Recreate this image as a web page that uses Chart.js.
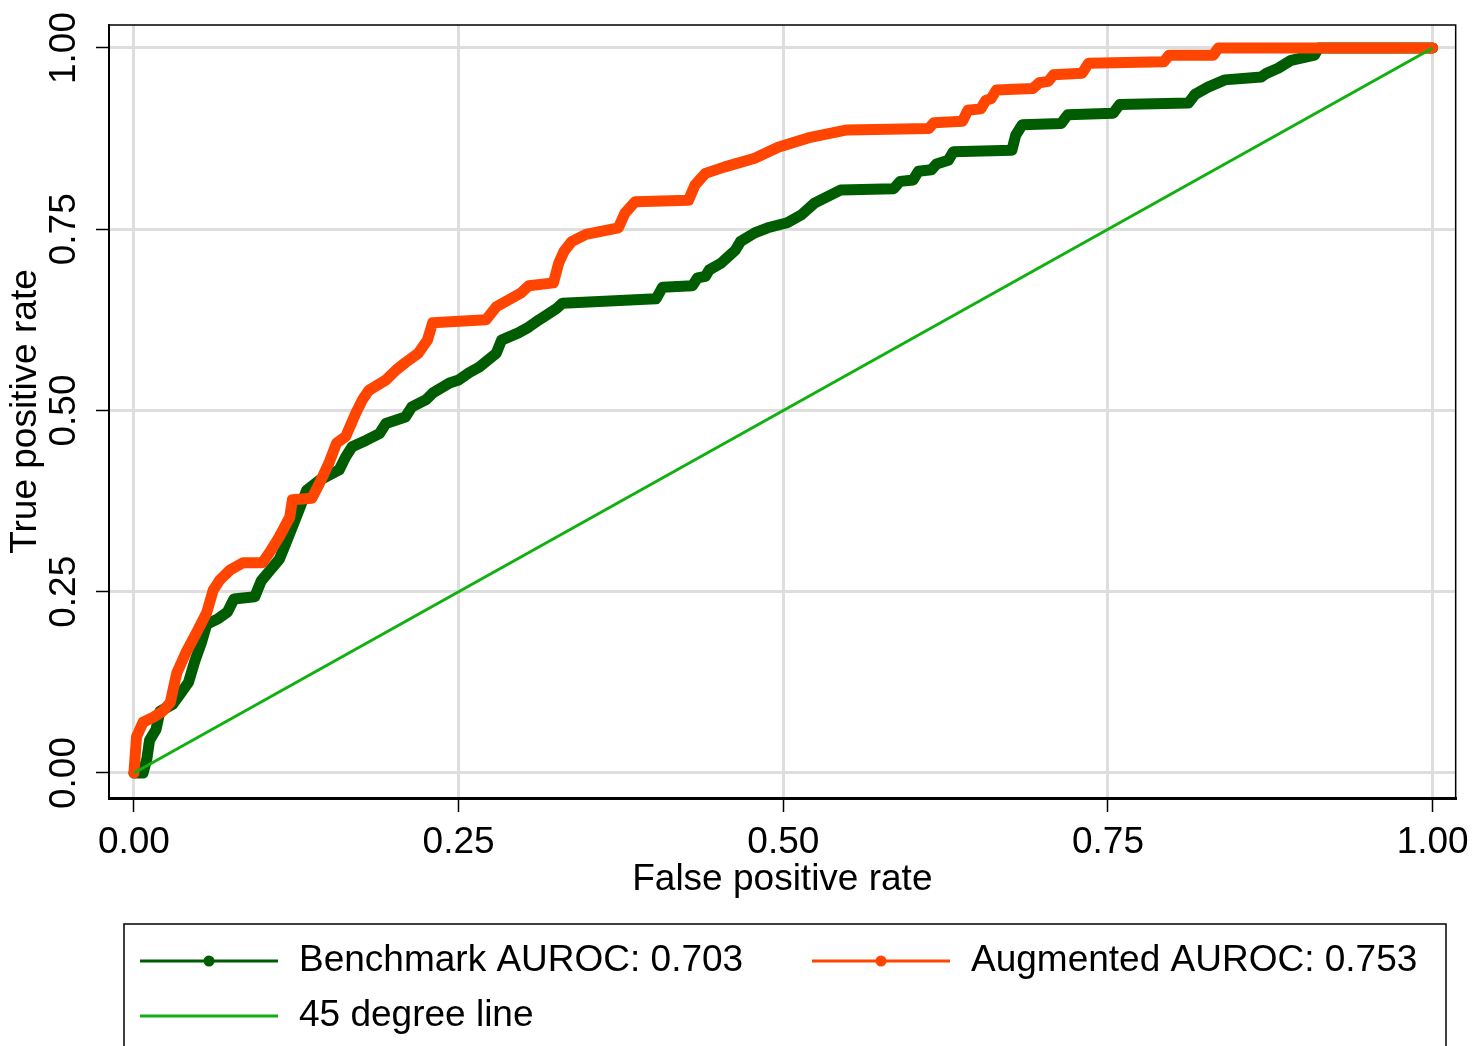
<!DOCTYPE html>
<html lang="en">
<head>
  <meta charset="UTF-8">
  <title>ROC curves</title>
  <style>
    body {
      margin: 0;
      background: #ffffff;
      overflow: hidden;
    }
    #wrap {
      width: 1478px;
      height: 1046px;
    }
  </style>
</head>
<body>
  <div id="wrap"><canvas id="roc"></canvas></div>

  <script src="https://cdn.jsdelivr.net/npm/chart.js"></script>
  <script>
    // tick positions and labels (both axes)
    const tickVals = [0, 0.25, 0.5, 0.75, 1];
    const tickLabels = ['0.00', '0.25', '0.50', '0.75', '1.00'];

    const seriesLabels = ['Benchmark AUROC: 0.703', 'Augmented AUROC: 0.753', '45 degree line'];

    // benchmark model ROC (false positive rate / true positive rate)
    const benchFpr = [0, 0.007, 0.010, 0.012, 0.017, 0.020, 0.030, 0.036, 0.042, 0.047,
      0.052, 0.056, 0.065, 0.072, 0.077, 0.093, 0.098, 0.105, 0.112, 0.117,
      0.125, 0.133, 0.143, 0.158, 0.163, 0.168, 0.179, 0.189, 0.194, 0.209,
      0.214, 0.225, 0.230, 0.243, 0.250, 0.258, 0.266, 0.279, 0.283, 0.296,
      0.304, 0.312, 0.325, 0.330, 0.402, 0.407, 0.430, 0.434, 0.440, 0.443,
      0.452, 0.463, 0.467, 0.478, 0.488, 0.503, 0.514, 0.524, 0.544, 0.585,
      0.590, 0.600, 0.604, 0.614, 0.618, 0.627, 0.631, 0.676, 0.679, 0.684,
      0.714, 0.719, 0.754, 0.759, 0.812, 0.817, 0.827, 0.840, 0.868, 0.872,
      0.881, 0.891, 0.909, 0.912, 1.000];
    const benchTpr = [0, 0, 0.020, 0.045, 0.060, 0.085, 0.095, 0.110, 0.125, 0.155,
      0.180, 0.205, 0.213, 0.222, 0.240, 0.243, 0.265, 0.280, 0.295, 0.317,
      0.353, 0.390, 0.404, 0.418, 0.436, 0.450, 0.459, 0.468, 0.482, 0.491,
      0.505, 0.515, 0.524, 0.538, 0.542, 0.552, 0.560, 0.579, 0.597, 0.607,
      0.615, 0.625, 0.640, 0.648, 0.654, 0.670, 0.672, 0.683, 0.685, 0.694,
      0.703, 0.721, 0.733, 0.745, 0.752, 0.759, 0.770, 0.786, 0.804, 0.806,
      0.816, 0.818, 0.830, 0.832, 0.840, 0.845, 0.857, 0.859, 0.880, 0.894,
      0.896, 0.908, 0.910, 0.922, 0.924, 0.936, 0.946, 0.956, 0.960, 0.965,
      0.972, 0.983, 0.990, 1.000, 1.000];

    // augmented model ROC
    const augFpr = [0, 0.002, 0.007, 0.015, 0.022, 0.028, 0.030, 0.033, 0.040, 0.048,
      0.056, 0.061, 0.066, 0.074, 0.084, 0.099, 0.104, 0.112, 0.120, 0.122,
      0.137, 0.143, 0.150, 0.156, 0.163, 0.171, 0.176, 0.181, 0.194, 0.202,
      0.209, 0.219, 0.226, 0.230, 0.271, 0.279, 0.298, 0.304, 0.323, 0.327,
      0.331, 0.337, 0.348, 0.373, 0.378, 0.386, 0.427, 0.432, 0.440, 0.455,
      0.478, 0.496, 0.519, 0.549, 0.612, 0.616, 0.638, 0.642, 0.652, 0.656,
      0.660, 0.664, 0.692, 0.697, 0.704, 0.708, 0.730, 0.735, 0.793, 0.797,
      0.831, 0.835, 1.000];
    const augTpr = [0, 0.050, 0.070, 0.077, 0.085, 0.097, 0.114, 0.138, 0.166, 0.193,
      0.221, 0.252, 0.266, 0.280, 0.290, 0.290, 0.303, 0.326, 0.353, 0.377,
      0.379, 0.400, 0.427, 0.455, 0.464, 0.497, 0.515, 0.528, 0.542, 0.556,
      0.566, 0.579, 0.597, 0.621, 0.625, 0.643, 0.662, 0.672, 0.676, 0.703,
      0.719, 0.733, 0.743, 0.752, 0.772, 0.788, 0.790, 0.811, 0.827, 0.836,
      0.848, 0.863, 0.876, 0.887, 0.889, 0.897, 0.899, 0.914, 0.916, 0.928,
      0.930, 0.942, 0.944, 0.952, 0.954, 0.963, 0.965, 0.979, 0.981, 0.990,
      0.990, 1.000, 1.000];

    // reference diagonal
    const diagFpr = [0, 1];
    const diagTpr = [0, 1];

    const toPoints = (xs, ys) => xs.map((x, i) => ({ x: x, y: ys[i] }));

    const FONT = "'Liberation Sans', Arial, sans-serif";
    Chart.defaults.font.family = FONT;
    Chart.defaults.color = '#000000';

    // frame on top and right + y tick labels turned 90 degrees + legend box
    const stataBits = {
      id: 'stataBits',
      afterDraw(chart) {
        const ctx = chart.ctx;
        const a = chart.chartArea;
        ctx.save();
        ctx.strokeStyle = '#000000';
        ctx.lineWidth = 1.5;
        ctx.beginPath();
        ctx.moveTo(a.left, a.top);
        ctx.lineTo(a.right, a.top);
        ctx.lineTo(a.right, a.bottom);
        ctx.stroke();

        // y tick labels, vertical
        const ys = chart.scales.y;
        ctx.fillStyle = '#000000';
        ctx.font = '37px ' + FONT;
        ctx.textAlign = 'center';
        ctx.textBaseline = 'middle';
        tickVals.forEach((v, i) => {
          ctx.save();
          ctx.translate(65, ys.getPixelForValue(v));
          ctx.rotate(-Math.PI / 2);
          ctx.fillText(tickLabels[i], 0, 0);
          ctx.restore();
        });

        // legend
        ctx.lineWidth = 1.5;
        ctx.strokeRect(124, 924, 1322, 140);
        const slots = [[140, 961], [812, 961], [140, 1016]];
        chart.data.datasets.forEach((ds, i) => {
          const [x, y] = slots[i];
          ctx.strokeStyle = ds.borderColor;
          ctx.lineWidth = 3;
          ctx.beginPath();
          ctx.moveTo(x, y);
          ctx.lineTo(x + 138, y);
          ctx.stroke();
          if (ds.legendDot) {
            ctx.fillStyle = ds.borderColor;
            ctx.beginPath();
            ctx.arc(x + 69, y, 5.5, 0, Math.PI * 2);
            ctx.fill();
          }
          ctx.fillStyle = '#000000';
          ctx.textAlign = 'left';
          ctx.fillText(ds.label, x + 159, y);
        });
        ctx.restore();
      }
    };

    const setTicks = axis => { axis.ticks = tickVals.map(v => ({ value: v })); };

    const chart = new Chart(document.getElementById('roc'), {
      type: 'scatter',
      data: {
        datasets: [
          {
            label: seriesLabels[0],
            data: toPoints(benchFpr, benchTpr),
            borderColor: '#005c00',
            backgroundColor: '#005c00',
            borderWidth: 11,
            showLine: true,
            pointRadius: 0,
            borderJoinStyle: 'round',
            borderCapStyle: 'round',
            legendDot: true,
            order: 3
          },
          {
            label: seriesLabels[1],
            data: toPoints(augFpr, augTpr),
            borderColor: '#ff4500',
            backgroundColor: '#ff4500',
            borderWidth: 11,
            showLine: true,
            pointRadius: 0,
            borderJoinStyle: 'round',
            borderCapStyle: 'round',
            legendDot: true,
            order: 2
          },
          {
            label: seriesLabels[2],
            data: toPoints(diagFpr, diagTpr),
            borderColor: '#10b010',
            backgroundColor: '#10b010',
            borderWidth: 3,
            showLine: true,
            pointRadius: 0,
            legendDot: false,
            order: 1
          }
        ]
      },
      options: {
        responsive: true,
        maintainAspectRatio: false,
        animation: false,
        layout: { padding: { left: 0, right: 18, top: 25, bottom: 144 } },
        plugins: {
          legend: { display: false },
          tooltip: { enabled: false }
        },
        scales: {
          x: {
            type: 'linear',
            min: -0.0192,
            max: 1.0177,
            afterBuildTicks: setTicks,
            afterFit: axis => { axis.height = 104; },
            grid: {
              color: '#dedede',
              lineWidth: 3,
              tickColor: '#000000',
              tickWidth: 1.5,
              tickLength: 14
            },
            border: { display: true, color: '#000000', width: 3 },
            ticks: {
              padding: 9,
              font: { size: 37 },
              color: '#000000',
              maxRotation: 0,
              callback: v => tickLabels[tickVals.indexOf(v)]
            },
            title: {
              display: true,
              text: 'False positive rate',
              font: { size: 37 },
              color: '#000000',
              padding: { top: 0, bottom: 0 }
            }
          },
          y: {
            type: 'linear',
            min: -0.0345,
            max: 1.0317,
            afterBuildTicks: setTicks,
            afterFit: axis => { axis.width = 109; },
            grid: {
              color: '#dedede',
              lineWidth: 3,
              tickColor: '#000000',
              tickWidth: 1.5,
              tickLength: 13
            },
            border: { display: true, color: '#000000', width: 2 },
            ticks: { display: false },
            title: {
              display: true,
              text: 'True positive rate',
              font: { size: 37 },
              color: '#000000',
              padding: { top: 4, bottom: 0 }
            }
          }
        }
      },
      plugins: [stataBits]
    });
  </script>
</body>
</html>
